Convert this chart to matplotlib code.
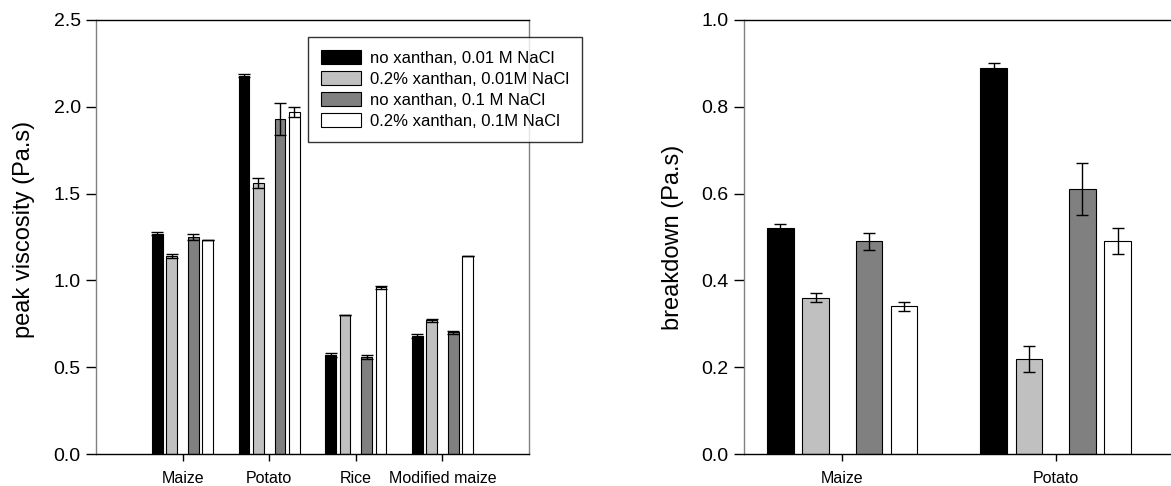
import numpy as np
import matplotlib
matplotlib.use('Agg')
import matplotlib.pyplot as plt

plt.rcParams['font.family'] = ['Liberation Sans', 'DejaVu Sans']

# Дані
series = ['no xanthan, 0.01 M NaCl', '0.2% xanthan, 0.01M NaCl',
          'no xanthan, 0.1 M NaCl', '0.2% xanthan, 0.1M NaCl']
colors = ['#000000', '#c0c0c0', '#808080', '#ffffff']

peak_cats = ['Maize', 'Potato', 'Rice', 'Modified maize']
peak_vals = [
    [1.27, 2.18, 0.57, 0.68],
    [1.14, 1.56, 0.80, 0.77],
    [1.25, 1.93, 0.56, 0.70],
    [1.23, 1.97, 0.96, 1.14],
]
peak_err = [
    [0.01, 0.01, 0.01, 0.01],
    [0.01, 0.03, 0.0, 0.01],
    [0.02, 0.09, 0.01, 0.01],
    [0.0, 0.03, 0.01, 0.0],
]

break_cats = ['Maize', 'Potato']
break_vals = [
    [0.52, 0.89],
    [0.36, 0.22],
    [0.49, 0.61],
    [0.34, 0.49],
]
break_err = [
    [0.01, 0.01],
    [0.01, 0.03],
    [0.02, 0.06],
    [0.01, 0.03],
]

offsets = [-0.29, -0.125, 0.125, 0.29]
width = 0.125

fig = plt.figure(figsize=(11.71, 4.86), dpi=100)
ax1 = fig.add_axes([96 / 1171, 32 / 486, 433 / 1171, 434 / 486])
ax2 = fig.add_axes([744 / 1171, 32 / 486, 427 / 1171, 434 / 486])


def draw(ax, cats, vals, errs, capsize):
    x = np.arange(len(cats))
    handles = []
    for i in range(4):
        h = ax.bar(x + offsets[i], vals[i], width, color=colors[i],
                   edgecolor='black', linewidth=0.8, zorder=2)
        handles.append(h)
        ax.errorbar(x + offsets[i], vals[i], yerr=errs[i], fmt='none',
                    ecolor='black', elinewidth=1, capsize=capsize,
                    capthick=1, zorder=3)
    ax.set_xticks(x)
    ax.set_xticklabels(cats, fontsize=11.5)
    ax.tick_params(axis='x', length=5, width=1, pad=7)
    ax.tick_params(axis='y', length=7, width=1, labelsize=14, pad=4)
    for s in ['top', 'bottom']:
        ax.spines[s].set_color('black')
        ax.spines[s].set_linewidth(1)
    for s in ['left', 'right']:
        ax.spines[s].set_color('#808080')
        ax.spines[s].set_linewidth(1)
    return handles


handles = draw(ax1, peak_cats, peak_vals, peak_err, 4)
ax1.set_xlim(-1.0, 4.0)
ax1.set_ylim(0, 2.5)
ax1.set_yticks(np.arange(0, 2.51, 0.5))
ax1.yaxis.set_major_formatter(plt.FormatStrFormatter('%.1f'))
ax1.set_ylabel('peak viscosity (Pa.s)', fontsize=17)
ax1.yaxis.set_label_coords(-0.14, 0.518)

draw(ax2, break_cats, break_vals, break_err, 4.5)
ax2.set_xlim(-0.46, 1.54)
ax2.set_ylim(0, 1.0)
ax2.set_yticks(np.arange(0, 1.01, 0.2))
ax2.yaxis.set_major_formatter(plt.FormatStrFormatter('%.1f'))
ax2.set_ylabel('breakdown (Pa.s)', fontsize=17)
ax2.yaxis.set_label_coords(-0.14, 0.5)
ax2.spines['right'].set_visible(False)

leg = fig.legend(handles, series, loc='upper left',
                 bbox_to_anchor=(308 / 1171, 1 - 37 / 486), borderaxespad=0,
                 fontsize=12, frameon=True, fancybox=False,
                 edgecolor='black', handlelength=2.35, handleheight=0.9,
                 labelspacing=0.32, borderpad=0.8, handletextpad=0.55)
leg.get_frame().set_linewidth(1)

fig.savefig('out.png', dpi=100)
